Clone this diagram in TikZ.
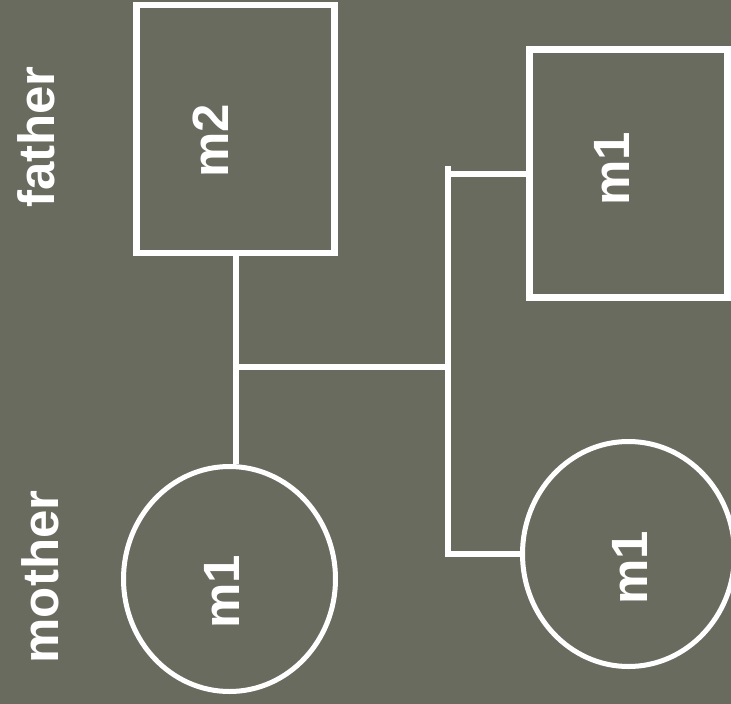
\documentclass[tikz,border=0pt]{standalone}
\usepackage{fontspec}
\setmainfont{Liberation Sans}
\usetikzlibrary{shapes.geometric}
\definecolor{bggrey}{RGB}{106,107,95}

\begin{document}
\begin{tikzpicture}[x=1pt, y=-1pt,
    male/.style={draw=white, line width=6.5pt, rectangle, minimum width=198pt, minimum height=248pt, inner sep=0pt},
    female/.style={draw=white, line width=5pt, ellipse, minimum width=212pt, minimum height=225pt, inner sep=0pt},
    tag/.style={text=white, font=\fontsize{51}{60}\selectfont\bfseries, rotate=90, inner sep=0pt},
    link/.style={draw=white, line width=6pt}]
    \fill [bggrey] (0, 0) rectangle (731, 704);
    \clip (0, 0) rectangle (731, 704);

    \node [male] (father) at (235.5, 129) {};
    \node [female] (mother) at (229.5, 579) {};
    \node [male] (son) at (628.5, 173.5) {};
    \node [female] (daughter) at (628.5, 554) {};

    \node [tag] (fatherlbl) at (36, 137) {father};
    \node [tag] (motherlbl) at (40, 577) {mother};
    \node [tag] (fathergt) at (211, 141) {m2};
    \node [tag] (mothergt) at (222, 592) {m1};
    \node [tag] (songt) at (612, 169) {m1};
    \node [tag] (daughtergt) at (630, 568) {m1};

    \coordinate (sibs) at (448, 367);
    \coordinate (sibtop) at (448, 166);
    \draw [link] (father.south) -- (father.south |- mother.north);
    \draw [link] (father.south |- sibs) -- (sibs);
    \draw [link] (sibtop) -- (sibtop |- daughter.west) -- (daughter.west);
    \draw [link] (sibtop |- son.west) -- (son.west);
  \end{tikzpicture}
\end{document}
